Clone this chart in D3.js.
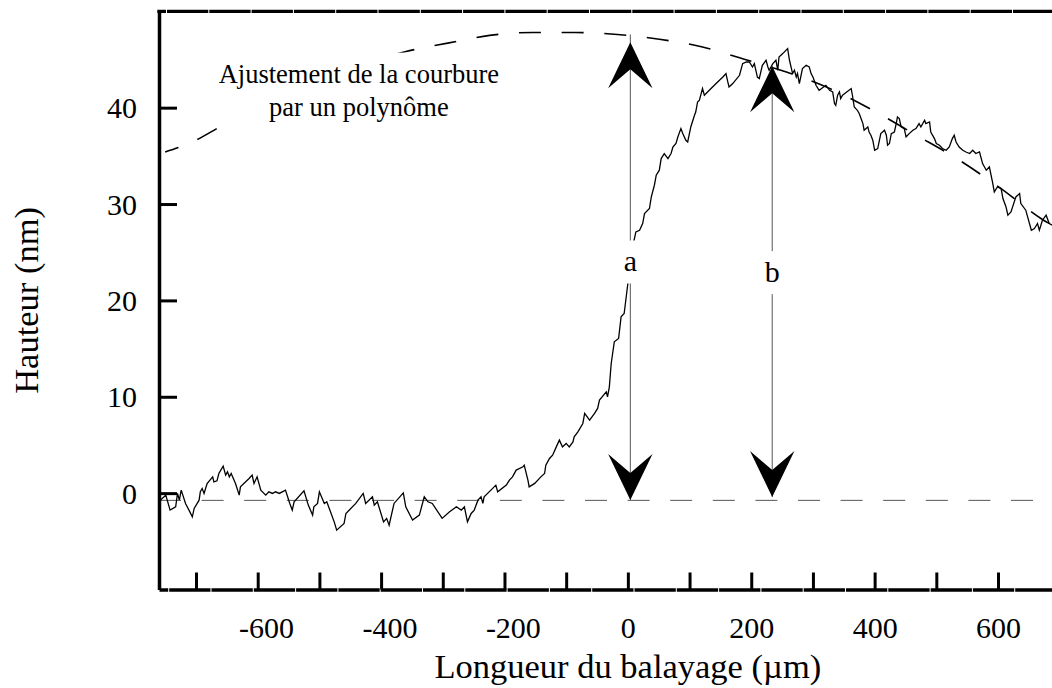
<!DOCTYPE html>
<html>
<head>
<meta charset="utf-8">
<script src="https://cdn.jsdelivr.net/npm/d3@7"></script>
<style>
  html, body { margin: 0; padding: 0; background: #fff; }
  svg { display: block; }
  text { font-family: "Liberation Serif", "Times New Roman", serif; fill: #000; }
</style>
</head>
<body>
<svg id="chart" width="1052" height="688"></svg>
<script>
// ---- axis ticks and labels ----
const xTickValues = [-700, -600, -500, -400, -300, -200, -100, 0, 100, 200, 300, 400, 500, 600];
const xTickLabels = [-600, -400, -200, 0, 200, 400, 600];
const yTickValues = [0, 10, 20, 30, 40];
const xTitle = "Longueur du balayage (µm)";
const yTitle = "Hauteur (nm)";

// reference level of the flat part of the scan (nm)
const baselineLevel = -0.75;

// measured height profile: [scan position (µm), height (nm)]
const profile = [
  [-758,-0.73],[-749,-0.21],[-742,-1.76],[-733,-1.42],[-730,-0.03],[-727,-0.73],[-724,0.31],[-717,-1.07],
  [-710,-1.94],[-706,-2.46],[-703,-1.59],[-695,-0.73],[-693,0.14],[-690,0.48],[-687,-0.03],[-682,1.00],
  [-673,1.69],[-671,1.17],[-666,1.28],[-663,2.04],[-656,2.80],[-652,1.87],[-649,2.21],[-646,1.69],
  [-643,2.04],[-636,1.00],[-630,-0.21],[-628,0.65],[-614,1.52],[-609,1.87],[-606,1.00],[-601,1.69],
  [-595,0.31],[-587,-0.21],[-582,0.14],[-576,-0.03],[-571,0.14],[-565,-0.03],[-555,0.31],[-548,-1.07],
  [-544,-1.76],[-541,-0.90],[-525,0.24],[-518,-1.24],[-511,-2.28],[-509,-1.42],[-503,-1.07],[-500,0.14],
  [-492,-1.07],[-488,-0.90],[-476,-2.98],[-472,-3.84],[-460,-3.14],[-457,-2.11],[-441,-1.07],[-429,-0.03],
  [-425,-1.07],[-414,-0.38],[-411,-1.24],[-406,-0.90],[-396,-2.98],[-391,-2.62],[-387,-3.32],[-379,-1.07],
  [-364,0.03],[-360,-1.42],[-349,-2.80],[-338,-2.28],[-330,-0.38],[-324,-0.90],[-317,-1.07],[-301,-2.62],
  [-289,-1.94],[-278,-1.42],[-270,-1.76],[-265,-1.42],[-260,-2.98],[-254,-2.11],[-249,-1.76],[-243,-0.73],
  [-238,-0.38],[-235,-1.07],[-233,-0.38],[-222,0.31],[-214,0.83],[-211,0.13],[-197,0.83],[-192,1.35],
  [-187,1.69],[-181,2.39],[-170,2.73],[-168,2.90],[-162,1.35],[-160,0.65],[-151,1.01],[-141,1.69],
  [-135,2.04],[-133,2.90],[-127,3.60],[-122,3.94],[-116,4.80],[-111,5.50],[-106,4.80],[-100,5.16],
  [-95,4.80],[-89,5.32],[-87,5.84],[-81,6.36],[-73,7.23],[-70,8.27],[-62,7.57],[-54,8.27],
  [-49,8.79],[-46,9.65],[-35,10.51],[-33,9.99],[-30,11.03],[-27,13.45],[-22,15.70],[-15,16.05],
  [-11,18.29],[-6,18.64],[-4,19.68],[0,21.75],[10,26.24],[13,27.11],[19,27.28],[24,27.98],
  [27,29.01],[35,29.53],[38,30.74],[43,31.95],[46,32.99],[51,33.51],[54,34.72],[59,35.24],
  [65,34.72],[70,35.24],[73,35.92],[78,36.28],[81,36.96],[86,37.83],[89,37.31],[94,36.62],
  [97,36.44],[102,38.00],[108,39.21],[110,39.55],[113,40.59],[116,40.77],[121,41.98],[124,41.29],
  [132,41.80],[143,42.50],[154,43.18],[159,43.54],[162,42.67],[164,42.15],[170,42.50],[181,43.36],
  [186,44.57],[192,44.74],[197,44.74],[202,44.22],[205,44.57],[210,43.18],[213,43.02],[218,44.40],
  [224,44.92],[227,44.22],[229,43.88],[235,44.57],[240,44.92],[243,43.88],[245,45.26],[251,45.61],
  [259,46.13],[262,44.92],[267,43.54],[270,43.88],[273,43.18],[275,43.54],[278,42.50],[283,44.06],
  [289,44.40],[294,44.22],[297,43.54],[300,43.18],[305,42.32],[310,41.80],[321,42.32],[327,41.80],
  [332,41.63],[335,40.43],[337,40.25],[340,41.29],[343,41.63],[345,40.94],[348,41.29],[362,41.98],
  [364,41.29],[367,40.07],[372,39.73],[375,39.39],[378,38.87],[381,38.35],[383,37.66],[389,38.00],
  [391,37.48],[394,37.14],[397,36.62],[400,35.58],[405,35.76],[410,37.31],[416,37.66],[419,37.14],
  [421,36.10],[424,36.28],[427,37.31],[432,37.48],[435,38.35],[437,39.04],[440,38.87],[443,38.00],
  [448,37.83],[451,36.96],[456,37.31],[462,37.66],[467,37.83],[472,38.35],[475,38.00],[481,38.69],
  [483,38.35],[489,38.52],[491,37.48],[497,36.79],[500,36.28],[505,36.10],[510,35.76],[516,35.58],
  [521,35.92],[526,36.79],[529,37.14],[532,36.44],[537,35.92],[543,35.58],[548,35.40],[554,35.24],
  [559,35.58],[564,35.24],[570,35.40],[575,34.20],[581,33.51],[586,33.85],[591,32.29],[594,31.26],
  [599,31.77],[605,31.61],[608,30.57],[613,29.70],[616,28.84],[621,29.18],[629,30.74],[635,31.09],
  [637,30.05],[645,29.36],[648,28.66],[654,27.28],[659,27.46],[664,27.98],[667,27.28],[672,28.32],
  [678,28.84],[683,27.98],[688,27.80]
];

// polynomial fitted to the curvature: [scan position (µm), height (nm)]
const fitCurve = [
  [-750,35.4],[-711,36.3],[-653,38.3],[-580,40.7],[-500,42.9],[-430,44.5],[-361,45.8],[-292,46.7],
  [-224,47.5],[-155,47.8],[-85,47.8],[-17,47.6],[51,47.1],[121,46.3],[190,45.0],[257,43.7],
  [327,42.0],[398,39.7],[466,37.2],[536,34.6],[605,31.6],[672,28.4],[688,27.8]
];
const fitNote = ["Ajustement de la courbure", "par un polynôme"];
const fitNoteAt = [-436, 42.6];   // centre, first baseline (µm, nm)

// height markers a and b: position, foot, head tip, top of shaft, label baseline
const markerNames = ["a", "b"];
const markerPos   = [4, 234];
const markerFoot  = [-0.7, -0.4];
const markerTip   = [46.8, 44.3];
const markerReach = [47.6, 44.3];
const markerLabel = [23.0, 21.9];

// ---- scales ----
const W = 1052, H = 688;
const x = d3.scaleLinear().domain([-760, 688]).range([159, 1052.3]);
const y = d3.scaleLinear().domain([-10, 50]).range([589.5, 11.3]);

const svg = d3.select("#chart");
const serif = '"Liberation Serif", "Times New Roman", serif';

// baseline of the flat region
svg.append("line")
  .attr("x1", x(-760)).attr("x2", W)
  .attr("y1", y(baselineLevel)).attr("y2", y(baselineLevel))
  .attr("stroke", "#555").attr("stroke-width", 1)
  .attr("stroke-dasharray", "22,20.6");

// polynomial fit
svg.append("path")
  .datum(fitCurve)
  .attr("fill", "none")
  .attr("stroke", "#000")
  .attr("stroke-width", 1.6)
  .attr("stroke-dasharray", "22,20.7")
  .attr("stroke-dashoffset", 8)
  .attr("d", d3.line().x(d => x(d[0])).y(d => y(d[1])).curve(d3.curveMonotoneX));

// note about the fit, on a white ground
const note = svg.append("g");
const noteText = note.append("text")
  .attr("text-anchor", "middle")
  .attr("font-size", 26.5)
  .attr("font-family", serif);
fitNote.forEach((line, i) => {
  noteText.append("tspan")
    .attr("x", x(fitNoteAt[0]))
    .attr("y", y(fitNoteAt[1]) + i * 33.3)
    .text(line);
});
const nb = noteText.node().getBBox();
note.insert("rect", "text")
  .attr("x", nb.x - 4).attr("y", nb.y - 6)
  .attr("width", nb.width + 8).attr("height", nb.height + 6)
  .attr("fill", "#fff");

// measured profile
svg.append("path")
  .datum(profile)
  .attr("fill", "none")
  .attr("stroke", "#000")
  .attr("stroke-width", 1.3)
  .attr("stroke-linejoin", "miter")
  .attr("d", d3.line().x(d => x(d[0])).y(d => y(d[1])));

// height markers
const headHalf = 22.2, headLen = 46, headNotch = 27;
markerNames.forEach((name, i) => {
  const mx = x(markerPos[i]);
  const g = svg.append("g");
  g.append("line")
    .attr("x1", mx).attr("x2", mx)
    .attr("y1", y(markerReach[i])).attr("y2", y(markerFoot[i]))
    .attr("stroke", "#555").attr("stroke-width", 1);
  const tUp = y(markerTip[i]);
  g.append("path")
    .attr("d", `M${mx},${tUp}L${mx + headHalf},${tUp + headLen}L${mx},${tUp + headNotch}L${mx - headHalf},${tUp + headLen}Z`)
    .attr("fill", "#000");
  const tDn = y(markerFoot[i]);
  g.append("path")
    .attr("d", `M${mx},${tDn}L${mx + headHalf},${tDn - headLen}L${mx},${tDn - headNotch}L${mx - headHalf},${tDn - headLen}Z`)
    .attr("fill", "#000");
  const ly = y(markerLabel[i]);
  g.append("rect")
    .attr("x", mx - 12).attr("y", ly - 31)
    .attr("width", 24).attr("height", 43)
    .attr("fill", "#fff");
  g.append("text")
    .attr("x", mx).attr("y", ly)
    .attr("text-anchor", "middle")
    .attr("font-size", 30)
    .attr("font-family", serif)
    .text(name);
});

// ---- axes ----
const xAxis = d3.axisBottom(x)
  .tickValues(xTickValues)
  .tickSizeInner(-17).tickSizeOuter(0)
  .tickFormat(d => xTickLabels.includes(d) ? String(d) : "");
const gx = svg.append("g")
  .attr("transform", `translate(0,${y(-10)})`)
  .call(xAxis)
  .attr("font-family", serif).attr("font-size", 30);
gx.select(".domain").attr("stroke", "#000").attr("stroke-width", 3.5)
  .attr("stroke-dasharray", "41.3,1").attr("stroke-dashoffset", 32.6);
gx.selectAll(".tick line").attr("stroke", "#000").attr("stroke-width", 3);
gx.selectAll(".tick text")
  .attr("y", 48).attr("dy", null)
  .attr("dx", d => d < 0 ? "0.28em" : null)
  .attr("fill", "#000");

const yAxis = d3.axisLeft(y)
  .tickValues(yTickValues)
  .tickSizeInner(-18).tickSizeOuter(0)
  .tickPadding(22)
  .tickFormat(d => String(d));
const gy = svg.append("g")
  .attr("transform", `translate(${x(-760)},0)`)
  .call(yAxis)
  .attr("font-family", serif).attr("font-size", 30);
gy.select(".domain").attr("stroke", "#000").attr("stroke-width", 3.5);
gy.selectAll(".tick line").attr("stroke", "#000").attr("stroke-width", 3);
gy.selectAll(".tick text").attr("dy", "0.34em").attr("fill", "#000");

// top edge of the frame
svg.append("line")
  .attr("x1", x(-760) - 1.7).attr("x2", W)
  .attr("y1", y(50)).attr("y2", y(50))
  .attr("stroke", "#000").attr("stroke-width", 3.3)
  .attr("stroke-dasharray", "41.3,1").attr("stroke-dashoffset", 32.6);

// axis titles
svg.append("text")
  .attr("x", x(0)).attr("y", 678)
  .attr("text-anchor", "middle")
  .attr("font-size", 34.5)
  .attr("font-family", serif)
  .text(xTitle);
svg.append("text")
  .attr("transform", `translate(38,${y(20)}) rotate(-90)`)
  .attr("text-anchor", "middle")
  .attr("font-size", 34.5)
  .attr("font-family", serif)
  .text(yTitle);
</script>
</body>
</html>
